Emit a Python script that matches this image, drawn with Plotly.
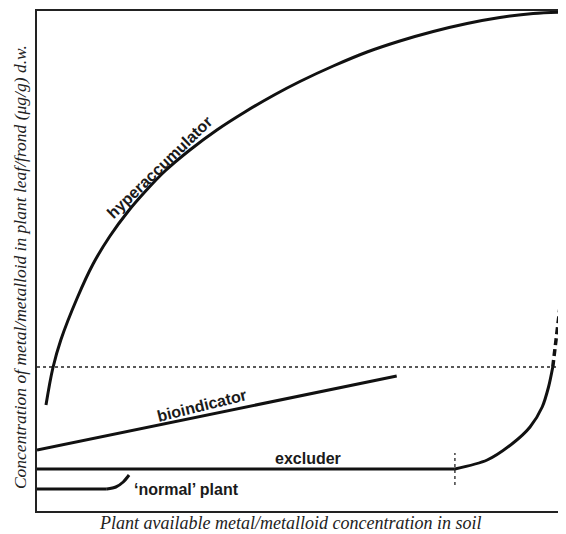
import plotly.graph_objects as go

# Conceptual response curves (arbitrary units, 0-100 on both axes)
hyper_x = [1.7, 3.0, 4.5, 7.6, 10.6, 13.8, 17.2, 20.2, 24.2, 28.9, 34.0, 39.3, 45.0, 49.7,
           56.0, 62.4, 68.6, 74.9, 81.3, 87.5, 93.8, 100.0]
hyper_y = [21.2, 28.6, 34.2, 42.6, 49.4, 55.0, 59.9, 63.6, 68.0, 72.2, 76.2, 79.8, 83.3, 85.9,
           89.0, 91.8, 94.0, 95.9, 97.5, 98.7, 99.5, 99.8]

bio_x = [0.0, 68.0]
bio_y = [12.2, 27.0]

excl_flat_x = [0.0, 79.0]
excl_flat_y = [8.4, 8.4]
excl_curve_x = [79.0, 85.1, 90.0, 93.2, 95.5, 96.7, 97.5]
excl_curve_y = [8.4, 10.2, 13.6, 16.8, 20.8, 24.8, 28.8]

excl_dash_x = [97.5, 98.4, 99.2]
excl_dash_y = [28.8, 36.2, 43.8]

normal_flat_x = [0.0, 13.2]
normal_flat_y = [4.4, 4.4]
normal_curve_x = [13.2, 14.9, 16.3, 17.4]
normal_curve_y = [4.4, 4.8, 5.8, 7.2]

threshold_y = 28.8
excl_break_x = 79.0
excl_break_y = [5.2, 11.6]

labels = ["hyperaccumulator", "bioindicator", "excluder", "\u2018normal\u2019 plant"]
label_x = [23.1, 31.2, 51.2, 28.2]
label_y = [68.8, 21.2, 10.6, 4.4]
label_angle = [-44, -14, 0, 0]

x_title = "Plant available metal/metalloid concentration in soil"
y_title = "Concentration of metal/metalloid in plant leaf/frond (\u03bcg/g) d.w."

LINE = "#111111"
fig = go.Figure()

fig.add_trace(go.Scatter(x=[0, 100], y=[threshold_y, threshold_y], mode="lines",
                         line=dict(color="#222222", width=1.4, dash="dot"), hoverinfo="skip"))
fig.add_trace(go.Scatter(x=[excl_break_x, excl_break_x], y=excl_break_y, mode="lines",
                         line=dict(color="#333333", width=1.4, dash="dot"), hoverinfo="skip"))
fig.add_trace(go.Scatter(x=hyper_x, y=hyper_y, mode="lines",
                         line=dict(color=LINE, width=3, shape="spline", smoothing=1.0)))
fig.add_trace(go.Scatter(x=bio_x, y=bio_y, mode="lines", line=dict(color=LINE, width=3)))
fig.add_trace(go.Scatter(x=excl_flat_x, y=excl_flat_y, mode="lines",
                         line=dict(color=LINE, width=3)))
fig.add_trace(go.Scatter(x=excl_curve_x, y=excl_curve_y, mode="lines",
                         line=dict(color=LINE, width=3, shape="spline", smoothing=0.8)))
fig.add_trace(go.Scatter(x=excl_dash_x, y=excl_dash_y, mode="lines",
                         line=dict(color=LINE, width=3.5, dash="7px,4px")))
fig.add_trace(go.Scatter(x=normal_flat_x, y=normal_flat_y, mode="lines",
                         line=dict(color=LINE, width=3)))
fig.add_trace(go.Scatter(x=normal_curve_x, y=normal_curve_y, mode="lines",
                         line=dict(color=LINE, width=3, shape="spline", smoothing=0.8)))

for t, x, y, a in zip(labels, label_x, label_y, label_angle):
    fig.add_annotation(x=x, y=y, text="<b>" + t + "</b>", textangle=a, showarrow=False,
                       font=dict(family="Liberation Sans, Arial", size=16, color="#1a1a1a"),
                       xanchor="center", yanchor="middle")

fig.add_annotation(xref="paper", yref="paper", x=0.478, y=-0.023, text="<i>" + x_title + "</i>",
                   showarrow=False,
                   font=dict(family="Liberation Serif, Times New Roman", size=18, color="#222222"),
                   xanchor="center", yanchor="middle")
fig.add_annotation(xref="paper", yref="paper", x=-0.032, y=0.488, text="<i>" + y_title + "</i>",
                   showarrow=False, textangle=-90,
                   font=dict(family="Liberation Serif, Times New Roman", size=17.5, color="#222222"),
                   xanchor="center", yanchor="middle")

# the page body has an 8px margin, so the figure is sized/offset to compensate
fig.update_layout(
    width=558, height=526,
    margin=dict(l=29, r=0, t=3, b=23),
    paper_bgcolor="white", plot_bgcolor="white",
    showlegend=False,
    xaxis=dict(range=[0, 100], showgrid=False, zeroline=False, showticklabels=False, ticks="",
               showline=True, linecolor="#222222", linewidth=2, mirror=True),
    yaxis=dict(range=[0, 100], showgrid=False, zeroline=False, showticklabels=False, ticks="",
               showline=True, linecolor="#222222", linewidth=2, mirror=False),
)

fig.write_html("out.html")
